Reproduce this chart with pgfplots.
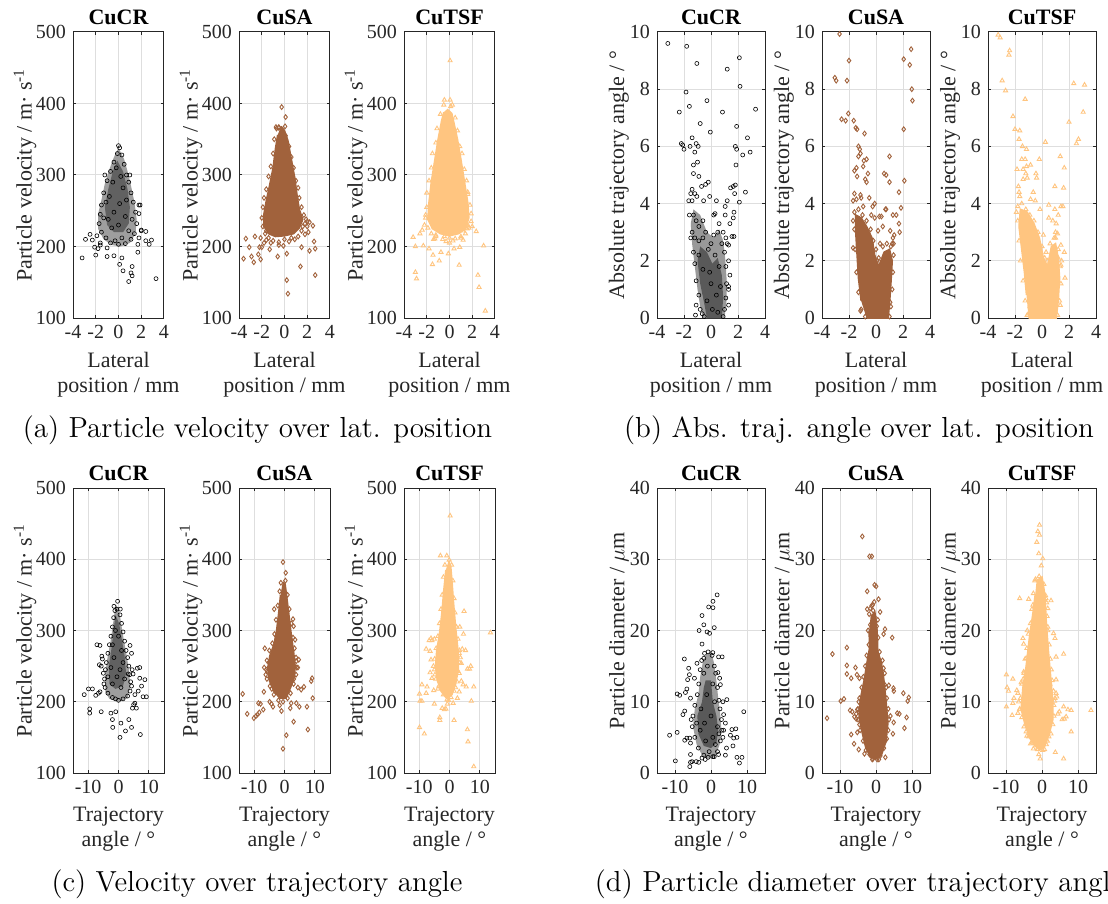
\documentclass[border=0pt]{standalone}
\usepackage{fontspec}
\usepackage{pgfplots}
\pgfplotsset{compat=1.18}
\newfontfamily\tnr{Liberation Serif}
\definecolor{brn}{RGB}{161,98,60}
\definecolor{org}{RGB}{255,197,128}
\pgfplotsset{
 every axis title shift=0pt,
 pan/.style={scale only axis, height=143pt,
  axis line style={draw=black!85,line width=0.5pt},
  tick align=inside, major tick length=1.6pt,
  tick style={draw=black!85,line width=0.5pt},
  grid=major, major grid style={draw=black!13,line width=0.5pt},
  ticklabel style={font=\tnr\fontsize{10}{12}\selectfont, text=black!85},
  /pgf/number format/assume math mode=true,
  label style={font=\tnr\fontsize{11}{12.5}\selectfont, text=black!85},
  xlabel style={align=center},
  title style={font=\tnr\bfseries\fontsize{11}{13}\selectfont}},
 lat/.style={xmin=-4,xmax=4,xtick={-4,-2,0,2,4},xlabel={Lateral\\position / mm}},
 traj/.style={xmin=-15,xmax=15,xtick={-10,0,10},xlabel={Trajectory\\angle / °}},
 vel/.style={ymin=100,ymax=500,ytick={100,200,300,400,500},ylabel={Particle velocity / m· s\textsuperscript{-1}}},
 ang/.style={ymin=0,ymax=10,ytick={0,2,4,6,8,10},ylabel={Absolute trajectory angle / °}},
 dia/.style={ymin=0,ymax=40,ytick={0,10,20,30,40},ylabel={Particle diameter / $\mu$m}},
 narrow/.style={width=45.5pt, ylabel style={at={(axis description cs:-0.527,0.5)},anchor=center}},
 wide/.style={width=54pt, ylabel style={at={(axis description cs:-0.352,0.5)},anchor=center}},
 crm/.style={only marks, mark=o, mark size=1pt, mark options={line width=0.3pt, draw=black}},
 sam/.style={only marks, mark=diamond, mark size=1.2pt, mark options={line width=0.45pt, draw=brn}},
 tsm/.style={only marks, mark=triangle, mark size=1.2pt, mark options={line width=0.45pt, draw=org}},
}
\begin{document}
\begin{tikzpicture}
% ---------------- (a) ----------------
\begin{axis}[pan,narrow,lat,vel,at={(36.5pt,-16pt)},anchor=north west,title={CuCR}]
\addplot[fill=black!38,draw=none] coordinates {(0,338) (0.5,322) (0.8,305) (1.1,285) (1.4,262) (1.6,238) (1.5,218) (1.0,205) (0.2,200) (-0.6,202) (-1.3,210) (-1.8,225) (-1.8,245) (-1.5,265) (-1.2,288) (-0.8,308) (-0.4,325)};
\addplot[fill=black!62,draw=none] coordinates {(-0.1,320) (0.4,305) (0.8,280) (1.0,255) (0.9,232) (0.4,220) (-0.4,220) (-1.0,230) (-1.2,255) (-0.9,280) (-0.5,305)};
\addplot[crm] coordinates {(-0.1,330) (0.3,328) (-0.4,318) (0.5,315) (-0.7,305) (0.7,300) (-1.0,292) (0.9,290) (-1.3,275) (1.1,275) (-1.5,258) (1.3,262) (-1.6,245) (1.5,248) (-1.7,232) (1.6,232) (-1.5,220) (1.4,218) (-1.1,212) (1.1,210) (-0.7,205) (0.6,204) (0,203) (-0.3,208) (0.3,212) (-1.9,215) (1.8,212) (-1.6,205) (1.7,203) (0.1,338) (-0.2,310) (0.2,298) (-0.5,290) (0.4,282) (-0.8,270) (0.7,265) (-1.1,262) (0.1,260) (-0.4,248) (0.6,242) (-0.9,238) (1.2,238) (0.0,230) (-0.6,226) (0.9,222) (-1.3,240) (1.0,300) (-1.2,300) (2.0,222) (1.9,258) (1.8,246)
(0,341) (-3.2,184) (-2.5,217) (-2.9,210) (-2.3,209) (-2.0,188) (-1.0,186) (-0.4,187) (0.3,184) (0.1,175) (0.4,166) (0.9,151) (1.2,172) (1.2,159) (1.1,163) (3.3,155) (2.4,208) (2.4,221) (2.9,209) (2.7,203) (1.7,192) (1.8,258) (2.0,223) (-1.8,197) (-1.6,202) (-2.1,199) (-1.0,198)};
\end{axis}
\begin{axis}[pan,narrow,lat,vel,at={(119.5pt,-16pt)},anchor=north west,title={CuSA}]
\addplot[fill=brn,draw=brn,line width=0.8pt] coordinates {(-0.3,368) (0.0,362) (0.3,348) (0.6,322) (0.9,296) (1.1,272) (1.3,252) (1.6,238) (1.3,226) (0.8,218) (0,215) (-0.8,214) (-1.4,218) (-1.8,228) (-1.8,246) (-1.6,264) (-1.3,286) (-1.0,310) (-0.8,336) (-0.6,356)};
\addplot[sam] coordinates {(-0.7,365) (-0.5,367) (-0.2,362) (0.1,355) (-0.9,350) (0.4,340) (-1.0,330) (0.6,325) (-1.2,312) (0.8,310) (-1.4,298) (1.0,292) (-1.6,280) (1.2,282) (-1.8,268) (1.3,268) (-1.9,255) (1.5,255) (-2.0,240) (1.7,244) (-1.9,228) (1.8,232) (-1.7,218) (1.5,222) (-1.4,212) (1.2,214) (-1.0,208) (0.9,210) (-0.5,206) (0.4,207) (0.0,210) (-1.6,222) (2.0,228) (2.2,234) (1.9,238) (-2.1,212) (-1.8,205) (-1.2,205) (0.6,212) (1.0,226)
(-3.6,183) (-3.4,211) (-3.1,199) (-2.9,186) (-2.7,178) (-2.6,214) (-2.3,189) (-2.1,182) (-2.2,199) (-2.0,199) (-1.6,209) (-1.3,196) (-0.6,186) (-0.5,202) (-0.1,201) (0.2,190) (0.2,153) (0.3,134) (1.4,172) (1.5,199) (1.8,217) (2.0,235) (2.1,220) (2.2,194) (2.5,229) (2.6,207) (2.7,197) (2.7,160) (-0.25,395) (0.1,381) (0.05,368) (-0.75,367) (-0.5,366) (1.6,228) (1.4,235)};
\end{axis}
\begin{axis}[pan,narrow,lat,vel,at={(202pt,-16pt)},anchor=north west,title={CuTSF}]
\addplot[fill=org,draw=org,line width=0.8pt] coordinates {(-0.2,392) (0.2,386) (0.4,372) (0.7,350) (1.0,322) (1.3,292) (1.6,262) (1.7,240) (1.4,225) (0.8,218) (0,215) (-0.8,218) (-1.5,225) (-1.9,238) (-1.8,262) (-1.6,290) (-1.3,320) (-1.0,350) (-0.7,375) (-0.5,388)};
\addplot[tsm] coordinates {(-0.5,398) (0.1,396) (-0.8,385) (0.5,380) (-1.1,365) (0.7,362) (-1.2,345) (0.9,340) (-1.5,330) (1.1,330) (-1.6,310) (1.3,308) (-1.8,292) (1.5,292) (-2.0,275) (1.6,276) (-2.0,255) (1.8,258) (-2.1,240) (1.9,235) (-1.9,226) (1.7,226) (-1.6,218) (1.4,218) (-1.2,214) (1.0,212) (-0.6,210) (0.5,211) (0.0,212) (-1.4,210) (1.5,230) (2.0,228) (-2.2,230) (0.3,208) (-0.3,207) (1.2,222) (1.45,232)
(0.05,460) (-0.45,405) (0.05,405) (0.25,398) (-3.2,213) (-3.0,200) (-3.0,164) (-2.9,155) (-2.6,218) (-2.3,201) (-2.4,223) (-2.1,244) (-1.8,197) (-1.45,188) (-1.5,175) (-1.3,211) (-1.2,216) (-0.9,180) (-0.75,192) (-0.45,214) (-0.1,190) (0,205) (0.4,197) (0.85,174) (0.9,199) (1.0,214) (1.2,209) (1.55,225) (1.65,229) (1.6,273) (1.9,246) (2.35,221) (2.5,160) (2.6,143) (3.0,201) (3.15,110)};
\end{axis}
% ---------------- (b) ----------------
\begin{axis}[pan,wide,lat,ang,at={(328.5pt,-16pt)},anchor=north west,title={CuCR}]
\addplot[fill=black!40,draw=none] coordinates {(-0.6,0) (1.0,0) (1.15,0.6) (1.15,1.4) (1.05,2.1) (0.9,2.7) (0.6,3.1) (0.2,2.8) (-0.3,3.0) (-0.8,3.6) (-1.3,3.8) (-1.5,3.3) (-1.4,2.6) (-1.2,1.8) (-1.0,1.0) (-0.8,0.4)};
\addplot[fill=black!65,draw=none] coordinates {(-0.3,0) (0.8,0) (0.9,0.7) (0.8,1.5) (0.5,2.1) (0.1,1.9) (-0.3,2.3) (-0.8,2.5) (-1.0,2.0) (-0.8,1.2) (-0.5,0.5)};
\addplot[crm] coordinates {(-1.3,3.6) (-1.1,3.4) (-0.9,3.2) (-0.6,3.4) (-0.4,3.0) (-1.4,3.0) (-1.2,2.8) (-0.9,2.7) (-0.6,2.8) (0.2,2.9) (0.5,3.0) (0.8,2.6) (1.0,2.3) (1.1,1.8) (1.15,1.2) (1.1,0.7) (1.0,0.3) (0.9,0.05) (-0.5,0.05) (-0.8,0.3) (-0.9,0.8) (-1.1,1.3) (-1.2,1.9) (-1.3,2.3) (-0.2,2.4) (0.3,2.2) (0.6,1.8) (-0.6,1.7) (0.0,1.2) (0.4,0.8) (-0.3,0.6) (0.7,1.1) (-0.9,2.2) (0.1,0.3) (0.5,0.2) (-0.1,1.6) (0.0,2.6) (1.3,2.0) (1.2,2.6) (-1.6,3.6) (-1.5,2.8) (0.9,3.0) (0.6,3.3) (1.3,1.0)
(-3.2,9.6) (-1.8,9.5) (-1.05,8.9) (2.1,9.1) (1.2,8.7) (2.15,8.1) (-1.85,7.9) (-0.3,7.6) (-1.6,7.4) (-2.35,7.2) (0.85,7.2) (3.3,7.3) (-0.8,6.8) (1.9,6.7) (-0.05,6.5) (2.7,6.3) (-2.2,6.1) (-2.1,6.05) (-2.0,5.9) (-1.55,6.0) (-1.4,6.3) (-1.1,6.1) (-0.95,6.0) (-1.2,5.8) (1.8,6.0) (1.9,5.9) (2.9,5.8) (2.35,5.7) (1.85,5.35) (-1.0,5.45) (-1.3,5.35) (-1.3,5.05) (-0.9,4.95) (-0.2,4.75) (-0.4,4.67) (-0.7,4.6) (-1.4,4.5) (-1.5,4.35) (-1.2,4.35) (-1.05,4.25) (-0.55,4.1) (-0.1,4.25) (-1.65,4.1) (-1.4,4.1) (0.4,4.1) (1.2,4.1) (1.8,4.65) (1.65,4.6) (1.45,4.55) (1.75,4.35) (2.1,4.05) (2.55,4.4) (1.05,3.9) (1.7,3.7) (1.65,3.5) (1.05,3.6) (0.2,3.6) (0.3,3.65) (1.4,3.3) (1.55,2.85) (1.7,2.85) (1.1,2.8) (1.3,2.55) (1.4,1.5) (1.3,1.1) (1.3,0.45) (-1.15,0.1) (-1.1,0.45) (-0.65,0.15)};
\end{axis}
\begin{axis}[pan,wide,lat,ang,at={(411pt,-16pt)},anchor=north west,title={CuSA}]
\addplot[fill=brn,draw=brn,line width=0.8pt] coordinates {(-0.7,0) (0.9,0) (1.0,0.5) (1.1,1.2) (1.2,2.0) (1.0,2.4) (0.6,2.3) (0.2,1.8) (-0.1,2.2) (-0.3,2.8) (-0.7,3.2) (-1.1,3.5) (-1.5,3.6) (-1.5,3.0) (-1.4,2.2) (-1.3,1.4) (-1.1,0.6)};
\addplot[sam] coordinates {(-1.6,3.7) (-1.3,3.8) (-1.0,3.6) (-0.7,3.4) (-0.4,3.1) (-0.2,2.7) (0.0,2.4) (0.2,2.1) (0.5,2.5) (0.8,2.6) (1.1,2.5) (1.3,2.2) (1.25,1.6) (1.2,1.0) (1.1,0.4) (1.0,0.05) (-0.8,0.05) (-1.1,0.3) (-1.3,0.9) (-1.45,1.6) (-1.55,2.4) (-1.6,3.1) (0.3,2.6) (1.3,2.6) (-1.7,3.4) (0.1,2.0) (0.4,1.9)
(-2.7,9.93) (-2.0,9.0) (-3.05,8.4) (-2.95,8.3) (-2.15,8.3) (2.6,9.4) (2.05,9.05) (2.5,8.85) (2.65,8.0) (2.7,7.6) (-2.05,7.15) (-2.55,6.95) (-2.25,6.9) (-1.65,6.9) (-1.5,6.65) (-1.4,6.6) (-0.85,6.45) (2.05,6.6) (-1.3,6.0) (-1.2,5.9) (-1.15,5.75) (-1.3,5.65) (-0.7,5.55) (-0.9,5.5) (1.0,5.65) (-1.6,5.15) (-1.45,5.25) (-1.4,4.95) (-0.95,5.3) (-0.6,5.05) (-0.8,4.85) (-0.7,4.75) (0.6,5.05) (0.75,5.0) (1.0,4.75) (2.1,4.8) (-1.6,4.35) (-1.45,4.15) (-1.7,4.1) (-1.15,4.3) (-1.1,4.2) (-0.5,4.2) (-0.95,3.9) (-0.25,3.9) (-0.1,4.0) (1.7,4.4) (1.85,3.85) (0.7,3.8) (0.75,3.8) (0.25,3.55) (0.4,3.55) (1.25,3.6) (1.5,3.6) (-0.35,3.6) (0.5,3.2) (1.05,3.05) (1.7,3.3) (1.75,3.0) (1.25,2.8) (1.35,2.9) (1.2,2.6) (-1.7,2.45) (-1.15,0.25) (1.05,0.55) (-0.1,3.5) (0.15,3.05)};
\end{axis}
\begin{axis}[pan,wide,lat,ang,at={(494pt,-16pt)},anchor=north west,title={CuTSF}]
\addplot[fill=org,draw=org,line width=0.8pt] coordinates {(-1.0,0) (1.05,0) (1.2,0.6) (1.3,1.4) (1.2,2.1) (1.0,2.6) (0.7,2.5) (0.4,1.8) (0.1,2.1) (-0.2,2.8) (-0.6,3.3) (-1.1,3.7) (-1.6,3.8) (-1.7,3.2) (-1.5,2.4) (-1.3,1.6) (-1.15,0.8)};
\addplot[tsm] coordinates {(-1.8,3.9) (-1.5,4.0) (-1.2,3.8) (-0.9,3.6) (-0.6,3.4) (-0.3,3.0) (0.0,2.5) (0.2,2.1) (0.4,2.0) (0.6,2.6) (0.9,2.8) (1.2,2.4) (1.35,1.8) (1.4,1.2) (1.3,0.6) (1.15,0.1) (-1.1,0.1) (-1.25,0.6) (-1.4,1.3) (-1.6,2.0) (-1.7,2.7) (-1.8,3.4) (-1.9,3.7) (0.3,2.3) (1.0,3.0) (1.45,2.0)
(-3.25,9.9) (-3.1,9.8) (-2.4,9.35) (-2.45,9.2) (-2.95,8.3) (-2.7,7.95) (-1.25,7.65) (-2.15,7.05) (-2.0,6.6) (-1.65,6.55) (-1.7,6.25) (2.35,8.2) (3.15,8.15) (3.05,7.2) (2.0,6.85) (2.7,6.25) (2.55,6.1) (0.25,6.15) (-1.45,6.0) (-1.15,5.9) (-1.25,5.55) (-1.5,5.55) (-1.85,5.2) (-1.4,5.2) (-1.15,5.3) (-0.85,5.35) (-0.2,5.55) (-0.45,5.05) (-0.4,4.9) (-1.2,5.05) (-1.1,4.9) (-1.4,4.85) (-1.75,4.6) (-1.7,4.4) (-1.65,4.25) (1.35,5.65) (1.65,5.25) (1.6,4.55) (0.95,4.6) (-0.65,4.4) (-0.5,4.1) (-0.85,4.15) (-0.15,3.8) (0.5,3.95) (0.5,3.5) (0.95,3.8) (1.4,3.9) (1.55,3.9) (1.2,3.6) (0.8,3.4) (1.05,3.3) (1.15,2.95) (1.0,2.8) (1.4,2.55) (1.65,2.3) (1.2,2.1) (1.4,1.85) (1.7,1.4) (1.35,0.45) (0.1,2.9) (-1.0,0.15) (-0.9,0.4)};
\end{axis}
% ---------------- (c) ----------------
\begin{axis}[pan,narrow,traj,vel,height=142.5pt,at={(36.5pt,-244pt)},anchor=north west,title={CuCR}]
\addplot[fill=black!38,draw=none] coordinates {(-0.8,336) (0.3,326) (1.0,306) (1.8,286) (2.8,262) (3.5,242) (3.9,222) (3.0,205) (0,200) (-3,204) (-4.3,214) (-4.5,235) (-3.7,260) (-2.6,285) (-1.9,306) (-1.3,325)};
\addplot[fill=black!62,draw=none] coordinates {(-1.0,322) (0.2,310) (1.0,290) (2.0,265) (2.5,240) (1.5,222) (-1.0,218) (-3.0,225) (-3.2,250) (-2.3,275) (-1.6,300)};
\addplot[crm] coordinates {(-0.5,330) (-1.2,328) (0.5,322) (-1.6,318) (1.0,310) (-2.0,305) (1.5,298) (-2.5,292) (2.0,285) (-3.0,280) (2.5,272) (-3.5,268) (3.0,262) (-4.0,255) (3.4,250) (-4.3,245) (3.7,238) (-4.6,232) (4.0,228) (-4.4,220) (3.8,215) (-3.5,212) (3.0,208) (-2.0,206) (1.5,204) (0.0,202) (-1.0,204) (-4.8,225) (4.3,222) (-1.0,300) (0.0,292) (-2.0,280) (1.0,272) (-1.5,262) (1.5,255) (-2.5,248) (0.5,245) (-0.5,235) (2.0,232) (-3.5,235) (-2.0,225) (0.8,220) (-5.0,240) (-5.3,260) (4.5,245) (-1.5,334) (0.6,330)
(-0.3,341) (-11.3,210) (-9.9,218) (-8.6,218) (-9.5,190) (-9.5,184) (-7.5,209) (-6.6,212) (-7.1,280) (-6.1,279) (-5.5,264) (-6.3,252) (-5.7,250) (-6.1,214) (-5.7,186) (-2.5,184) (-1.9,164) (-2.0,175) (-0.9,186) (0.8,170) (0.5,150) (2.3,159) (3.4,175) (3.8,279) (4.3,164) (4.6,191) (5.0,196) (5.4,210) (6.5,215) (7.0,233) (6.2,247) (7.0,248) (7.6,222) (8.7,231) (8.1,207) (9.2,207) (7.2,154) (5.4,198) (4.3,268) (4.8,239) (3.2,239) (5.9,191)};
\end{axis}
\begin{axis}[pan,narrow,traj,vel,height=142.5pt,at={(119.5pt,-244pt)},anchor=north west,title={CuSA}]
\addplot[fill=brn,draw=brn,line width=0.8pt] coordinates {(-0.6,368) (0.2,365) (0.8,345) (1.5,320) (2.2,295) (3.0,270) (3.5,250) (3.3,235) (2.0,220) (0.5,205) (-1.5,205) (-3.5,215) (-5.0,230) (-5.5,248) (-4.8,265) (-3.5,280) (-2.6,300) (-1.9,325) (-1.3,350)};
\addplot[sam] coordinates {(-1.2,367) (0.3,370) (-1.6,355) (1.0,350) (-2.2,335) (1.6,330) (-2.8,315) (2.2,310) (-3.3,295) (2.8,290) (-4.0,282) (3.3,275) (-5.0,272) (3.8,262) (-5.8,258) (4.0,248) (-6.0,245) (3.8,238) (-5.8,232) (3.0,225) (-4.8,222) (2.0,212) (-3.5,210) (1.0,205) (-2.0,202) (-0.5,200) (-4.2,218) (2.6,230) (-6.2,238) (-5.2,255)
(-0.5,396) (0.4,381) (-13.8,211) (-12.3,183) (-10.1,177) (-9.4,180) (-8.9,182) (-8.3,185) (-8.6,198) (-7.9,197) (-7.0,189) (-6.8,214) (-6.5,275) (-5.7,243) (-6.7,248) (-4.9,200) (-4.3,197) (-3.8,193) (-2.7,233) (-2.5,285) (-3.4,330) (-1.6,195) (-1.0,187) (-0.5,134) (0.6,153) (1.9,191) (2.2,198) (3.0,172) (2.8,316) (3.0,306) (3.5,287) (3.9,257) (4.7,259) (4.4,248) (4.4,220) (3.9,198) (4.9,193) (5.5,217) (6.4,221) (7.4,193) (7.7,161) (8.8,229) (9.1,233) (9.3,205) (3.1,232)};
\end{axis}
\begin{axis}[pan,narrow,traj,vel,height=142.5pt,at={(202pt,-244pt)},anchor=north west,title={CuTSF}]
\addplot[fill=org,draw=org,line width=0.8pt] coordinates {(-0.3,398) (0.4,390) (0.8,370) (1.3,340) (2.0,305) (2.8,272) (2.9,245) (2.0,225) (0.8,210) (-1,205) (-2.8,215) (-4.0,230) (-4.6,250) (-4.2,272) (-3.3,295) (-2.5,325) (-1.9,355) (-1.2,385)};
\addplot[tsm] coordinates {(-1.5,392) (0.7,392) (-2.0,375) (1.1,370) (-2.4,350) (1.5,345) (-2.8,330) (1.8,325) (-3.3,310) (2.3,305) (-3.8,292) (2.8,288) (-4.4,275) (3.3,272) (-4.9,260) (3.4,255) (-5.0,245) (3.2,240) (-4.5,232) (2.5,228) (-3.5,222) (1.5,215) (-2.0,210) (0.5,206) (-0.8,203) (-3.8,218) (2.0,220) (-4.8,238) (3.6,262)
(0.2,461) (-3.0,405) (-0.9,405) (-0.1,399) (13.5,297) (4.6,295) (3.4,305) (4.2,274) (5.3,272) (3.2,268) (3.9,254) (2.8,243) (5.9,246) (6.6,246) (7.0,250) (3.9,229) (4.5,224) (5.5,221) (8.0,221) (3.2,214) (2.6,205) (1.2,198) (1.5,174) (-0.7,197) (-0.3,202) (-1.2,190) (-1.7,189) (-2.4,191) (-3.2,178) (-3.2,174) (-5.0,197) (-5.2,216) (-5.8,233) (-5.3,250) (-6.1,259) (-6.4,271) (-6.7,286) (-5.8,286) (-6.1,289) (-5.0,288) (-7.7,274) (-6.4,241) (-7.4,221) (-7.7,212) (-9.1,224) (-9.9,211) (-9.7,201) (-9.1,201) (-9.9,164) (-8.3,155) (5.9,161) (6.1,144) (7.2,201) (8.0,109) (4.8,327)};
\end{axis}
% ---------------- (d) ----------------
\begin{axis}[pan,wide,traj,dia,height=142.5pt,at={(328.5pt,-244pt)},anchor=north west,title={CuCR}]
\addplot[fill=black!38,draw=none] coordinates {(-1.5,16.5) (0,17.2) (0.8,15.5) (1.5,13) (2.0,10.5) (2.6,8) (2.9,6) (2.4,4) (1.2,2.3) (-0.5,2) (-2.5,2.5) (-4.0,4) (-5.0,6.5) (-4.5,9) (-3.5,11) (-3.0,13.5) (-2.3,15.5)};
\addplot[fill=black!65,draw=none] coordinates {(-1.5,13) (0,13) (0.5,10) (1.5,8) (2.0,6) (1.5,4.2) (0,3.5) (-2.0,3.8) (-3.5,5.5) (-3.8,8) (-2.5,10) (-2.0,12)};
\addplot[crm] coordinates {(-1.8,16.8) (-0.8,17.0) (0.3,16.5) (0.9,15.0) (-2.6,15.8) (1.3,14.0) (-3.0,14.5) (1.8,12.0) (-3.4,12.5) (2.2,10.2) (-3.8,11.0) (2.5,9.0) (-4.5,9.5) (2.9,7.5) (-5.0,8.0) (3.0,6.0) (-5.2,6.5) (2.6,4.5) (-4.5,5.0) (1.8,3.0) (-3.5,3.5) (0.5,2.3) (-2.0,2.5) (-0.8,2.2) (-1.0,15.0) (-2.0,14.0) (0.5,12.5) (-1.2,11.0) (1.0,10.0) (-2.8,9.0) (0.0,8.0) (-1.8,7.0) (1.8,6.5) (-3.0,6.0) (0.5,5.0) (-1.5,4.5) (-4.0,7.0) (2.2,5.5) (-0.5,3.0) (1.2,4.0) (3.3,5.0) (-5.5,7.5) (3.5,6.0)
(1.7,25.0) (0.55,24.1) (-0.65,23.3) (0.55,23.2) (-2.5,22.1) (-2.0,20.8) (0.9,20.4) (-1.1,19.8) (-0.4,19.6) (-3.3,20.0) (-2.5,18.1) (-7.4,16.0) (-2.0,16.1) (0.5,16.9) (2.1,16.3) (3.1,16.3) (-6.2,14.7) (-3.9,15.4) (1.9,14.1) (2.4,13.3) (2.6,12.4) (-6.0,13.8) (-4.6,13.3) (-6.5,13.1) (-6.7,11.8) (-7.1,11.3) (-9.4,11.1) (-8.7,10.9) (-5.7,10.5) (4.4,10.3) (3.3,10.0) (3.5,8.2) (9.1,8.6) (4.0,7.0) (-7.3,8.7) (-7.8,8.2) (-11.5,5.3) (-9.4,5.7) (-7.3,4.6) (-6.7,4.9) (-5.9,4.9) (-5.7,4.2) (6.3,4.9) (7.2,5.0) (6.1,3.8) (5.4,5.3) (5.8,6.1) (6.9,6.2) (4.3,3.5) (4.0,2.5) (7.2,2.2) (8.6,2.2) (7.9,1.4) (-9.9,1.7) (-5.7,2.6) (-5.3,1.6) (-4.1,1.6) (-3.4,1.5) (-5.9,0.9) (-5.7,1.5) (-2.5,2.1) (-1.6,1.9) (0.9,2.3) (2.1,2.6)};
\end{axis}
\begin{axis}[pan,wide,traj,dia,height=142.5pt,at={(411pt,-244pt)},anchor=north west,title={CuSA}]
\addplot[fill=brn,draw=brn,line width=0.8pt] coordinates {(-1.5,22) (-0.3,22.5) (0.3,20) (0.5,17) (1.5,15.5) (2.2,13) (2.8,10) (3.3,7) (2.8,4.5) (1.5,2.5) (0,2) (-1.5,2.2) (-2.8,3.5) (-4.0,6) (-4.7,8) (-4.3,10.5) (-3.3,13) (-2.5,15.5) (-1.8,17.5) (-1.9,20)};
\addplot[sam] coordinates {(-1.9,22.3) (-0.8,22.8) (0.5,21.5) (-2.2,20.0) (0.6,19.0) (-2.0,18.0) (1.0,17.0) (-2.6,16.5) (1.8,15.8) (-3.0,15.0) (2.4,14.0) (-3.5,13.5) (2.8,12.0) (-4.0,12.0) (3.0,10.5) (-4.6,10.5) (3.4,9.0) (-5.0,9.0) (3.6,7.5) (-5.0,7.5) (3.4,6.0) (-4.4,6.0) (3.0,4.8) (-3.6,4.5) (2.2,3.5) (-2.8,3.2) (1.2,2.4) (-1.8,2.6) (0.3,1.9) (-0.8,2.0) (-5.5,8.3) (4.0,8.0) (-0.5,24.0) (-1.2,23.5) (-1.6,20.8) (0.2,20.6)
(-3.8,33.2) (-1.8,30.4) (-1.15,30.4) (-0.4,26.4) (0.05,26.2) (-2.45,25.5) (-2.45,23.0) (-1.6,23.1) (-0.9,23.6) (0.7,24.4) (1.15,22.6) (-0.4,21.9) (2.5,20.2) (2.1,19.5) (4.5,19.0) (-12.1,16.7) (-8.1,17.6) (-8.1,15.1) (-8.1,13.9) (-5.7,14.8) (-5.3,13.8) (-6.9,13.3) (-4.6,13.3) (2.1,14.7) (3.55,12.3) (4.85,11.9) (4.95,11.5) (2.4,12.4) (-9.8,10.1) (-8.9,10.4) (-4.8,10.0) (7.6,11.2) (8.5,7.8) (9.1,10.6) (8.8,10.1) (7.9,6.3) (5.9,8.4) (6.5,8.3) (4.9,7.1) (4.7,5.5) (-13.6,7.7) (-7.2,8.8) (-6.6,8.6) (-6.0,7.9) (-5.5,7.6) (-5.2,8.9) (-4.6,8.5) (-6.9,5.4) (-5.2,5.7) (-4.6,6.8) (-6.1,4.1) (-4.8,3.3) (-3.2,2.7) (2.6,4.7) (2.4,4.4) (2.6,2.2) (-1.05,1.9) (0.8,1.9) (-0.7,2.3)};
\end{axis}
\begin{axis}[pan,wide,traj,dia,height=142.5pt,at={(494pt,-244pt)},anchor=north west,title={CuTSF}]
\addplot[fill=org,draw=org,line width=0.8pt] coordinates {(-1.5,27) (0,27.5) (0.8,25) (1.2,21) (1.8,17) (2.4,13.5) (3.0,10) (3.0,7.5) (2.0,5.5) (0.8,3.8) (-0.5,3.3) (-2.0,3.8) (-3.5,5) (-4.8,7) (-5.8,9) (-5.3,12) (-4.4,15) (-3.5,19) (-2.5,22.5) (-1.9,25)};
\addplot[tsm] coordinates {(-2.0,27.0) (-0.8,27.6) (0.5,26.5) (-2.4,25.2) (1.1,24.5) (-2.8,23.0) (1.4,22.0) (-3.2,21.0) (1.6,20.0) (-3.8,19.5) (2.0,18.0) (-4.2,17.5) (2.3,16.0) (-4.7,16.0) (2.6,14.5) (-5.0,14.0) (2.8,13.0) (-5.6,12.5) (3.2,11.5) (-6.0,10.5) (3.3,9.5) (-6.2,9.0) (3.3,8.0) (-5.6,7.8) (3.0,6.8) (-5.0,6.5) (2.5,5.5) (-4.2,5.2) (1.5,4.5) (-2.8,4.2) (0.2,3.2) (-1.2,3.3) (-6.5,10.0) (3.6,10.5) (-5.2,13.2) (2.2,12.5)
(-0.7,34.8) (-1.15,33.9) (-0.7,33.4) (-1.45,32.4) (-0.9,30.8) (0.2,30.1) (-0.2,29.1) (-1.8,27.2) (-0.5,26.9) (0.5,25.0) (1.0,24.9) (-6.2,24.5) (-3.7,24.4) (-2.5,23.6) (2.5,24.2) (1.3,23.9) (1.6,23.1) (1.6,20.5) (3.2,19.6) (3.6,18.9) (-4.1,20.0) (-5.3,18.9) (-5.1,18.1) (3.9,16.3) (6.0,16.7) (-4.4,16.1) (-5.1,14.2) (-5.8,12.7) (-9.9,13.8) (-9.7,12.0) (-9.3,11.5) (-8.1,13.2) (-7.8,10.5) (-7.0,11.6) (-6.7,11.2) (-9.9,9.3) (-8.1,9.8) (-8.3,8.1) (-6.7,8.4) (-6.2,8.9) (3.9,13.1) (3.9,11.2) (4.1,10.7) (3.5,10.1) (4.4,8.3) (4.8,8.6) (5.6,7.5) (6.2,7.6) (6.0,9.3) (6.7,7.9) (7.2,8.9) (8.1,8.8) (13.6,8.8) (8.1,5.8) (3.7,2.9) (6.0,2.0) (-0.5,2.0) (-0.9,2.6) (1.9,5.1) (-4.4,5.8) (-3.7,5.1) (-3.2,4.1) (-2.4,3.4) (-1.3,3.4) (0.7,3.3) (1.2,4.0)};
\end{axis}
% ---------------- captions ----------------
\node[anchor=base,font=\fontsize{14.5}{17}\selectfont] at (128.75pt,-218.75pt) {(a) Particle velocity over lat. position};
\node[anchor=base,font=\fontsize{14.5}{17}\selectfont] at (429.5pt,-218.75pt) {(b) Abs. traj. angle over lat. position};
\node[anchor=base,font=\fontsize{14.5}{17}\selectfont] at (128.5pt,-445.5pt) {(c) Velocity over trajectory angle};
\node[anchor=base,font=\fontsize{14.5}{17}\selectfont] at (429.5pt,-445.5pt) {(d) Particle diameter over trajectory angle};
\pgfresetboundingbox
\useasboundingbox (0,0) rectangle (554pt,-452pt);
\end{tikzpicture}
\end{document}
